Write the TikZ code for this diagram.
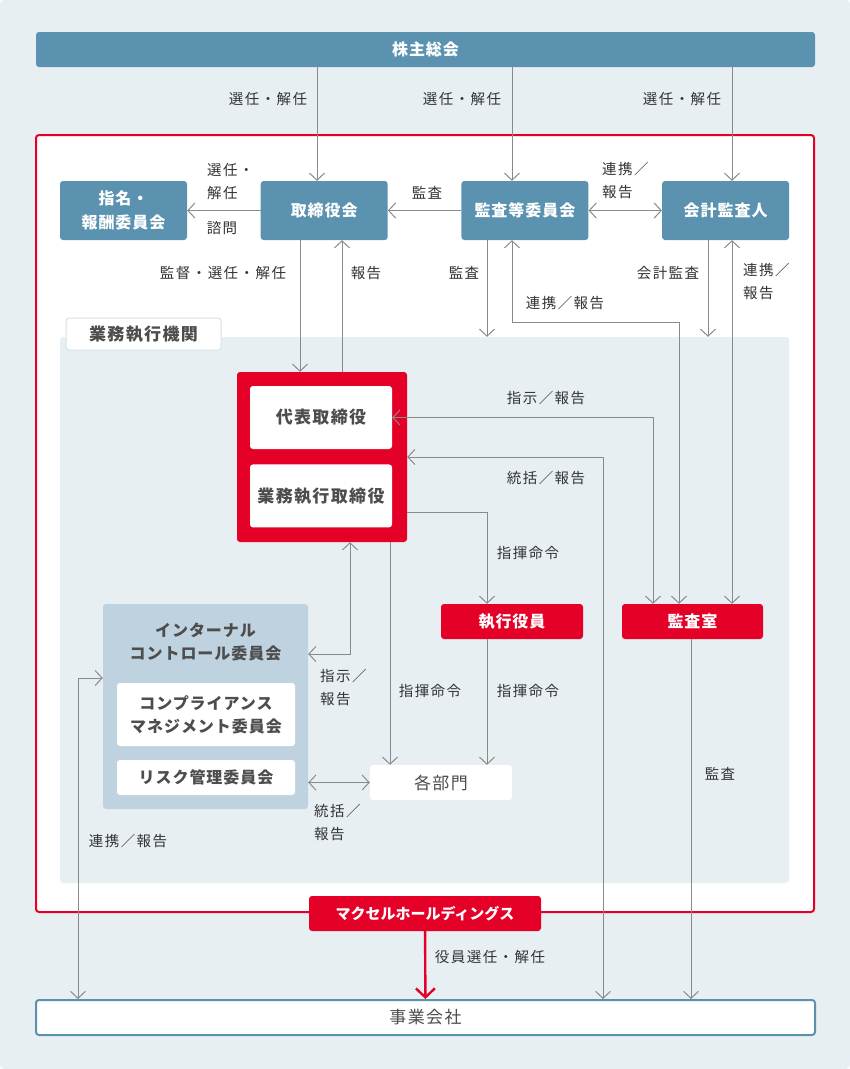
\documentclass[tikz,border=0pt]{standalone}
\usepackage{fontspec}
\setmainfont{Noto Sans CJK JP}
\newfontfamily\lblfont[LetterSpace=10]{Noto Sans CJK JP}
\newfontfamily\boxfont[LetterSpace=6]{Noto Sans CJK JP}
\newfontfamily\innerfont[LetterSpace=8]{Noto Sans CJK JP}
\usetikzlibrary{arrows.meta, positioning, calc}
\definecolor{pagebg}{HTML}{E8EFF3}
\definecolor{hdblue}{HTML}{5A92B0}
\definecolor{mxred}{HTML}{E40027}
\definecolor{icbg}{HTML}{BED3DF}
\definecolor{linegray}{HTML}{8A8A8A}
\definecolor{labeltext}{HTML}{333333}
\definecolor{boxtext}{HTML}{4D4D4D}
\definecolor{tabline}{HTML}{D5E1E9}
\tikzstyle{line} = [draw=linegray, line width=1pt, ->]
\tikzstyle{dline} = [line, <->]
\tikzstyle{redline} = [draw=mxred, line width=2.4pt, -{Straight Barb[length=9pt,width=19pt]}]
\tikzstyle{block} = [rectangle, fill=hdblue, rounded corners=3pt, text=white, align=center, inner sep=0pt, minimum width=127pt, minimum height=59pt, font=\boxfont\bfseries\fontsize{16}{24}\selectfont]
\tikzstyle{redblock} = [block, fill=mxred, minimum width=142pt, minimum height=35pt]
\tikzstyle{whitebox} = [block, fill=white, text=boxtext, minimum width=142pt, minimum height=63pt, font=\innerfont\bfseries\fontsize{17}{24}\selectfont]
\tikzstyle{lbl} = [inner sep=0pt, align=left, text=labeltext, font=\lblfont\fontsize{14.5}{23}\selectfont]

\begin{document}
\begin{tikzpicture}[x=1pt, y=-1pt, node distance=73.3pt, >={Straight Barb[length=7pt,width=15pt]}]
\fill[pagebg, rounded corners=4pt] (0,0) rectangle (850,1069);
\useasboundingbox (0,0) rectangle (850,1069);
\node [block, minimum width=779pt, minimum height=35pt] (shareholders) at (425.5,49.5) {株主総会};
\draw [mxred, line width=2pt, fill=white, rounded corners=3pt] (36,135) rectangle (814,912);
\node [block] (nomination) at (123.5,210.5) {指名・\\報酬委員会};
\node [block, right=of nomination] (board) {取締役会};
\node [block, right=of board] (audit) {監査等委員会};
\node [block, right=of audit] (accountant) {会計監査人};
\node [block, fill=pagebg, minimum width=729pt, minimum height=546pt] (execarea) at (424.5,610) {};
\node [whitebox, draw=tabline, line width=1pt, minimum width=155pt, minimum height=32pt] (tab) at (143.5,334) {業務執行機関};
\node [redblock, minimum width=170pt, minimum height=170pt] (group) at (322,457) {};
\node [whitebox] (president) at (321,417.5) {代表取締役};
\node [whitebox, below=15pt of president] (execdir) {業務執行取締役};
\node [redblock] (officers) at (512,621.5) {執行役員};
\node [redblock, minimum width=141pt] (auditoffice) at (692.5,621.5) {監査室};
\node [whitebox, minimum height=35pt, font=\innerfont\fontsize{17}{24}\selectfont] (depts) at (441,782.5) {各部門};
\node [block, fill=icbg, minimum width=205pt, minimum height=205pt] (internal) at (205.5,706.5) {};
\node [inner sep=0pt, align=center, text=boxtext, font=\boxfont\bfseries\fontsize{16}{23}\selectfont] (ictitle) at (205.5,642) {インターナル\\コントロール委員会};
\node [whitebox, minimum width=178pt, font=\boxfont\bfseries\fontsize{16}{23}\selectfont] (compliance) at (206,714.5) {コンプライアンス\\マネジメント委員会};
\node [whitebox, minimum width=178pt, minimum height=35pt, font=\boxfont\bfseries\fontsize{16}{23}\selectfont] (risk) at (206,777.5) {リスク管理委員会};
\node [redblock, minimum width=232pt, font=\bfseries\fontsize{15}{20}\selectfont] (maxell) at (425,913.5) {マクセルホールディングス};
\node [whitebox, draw=hdblue, line width=2pt, minimum width=779pt, minimum height=35pt, font=\innerfont\fontsize{17}{24}\selectfont] (business) at (425.5,1017.5) {事業会社};

\path [line] (shareholders.south -| 317,0) -- (board.north -| 317,0);
\path [line] (shareholders.south -| 512,0) -- (audit.north -| 512,0);
\path [line] (shareholders.south -| 732,0) -- (accountant.north -| 732,0);
\path [line] (board) -- (nomination);
\path [line] (audit) -- (board);
\path [dline] (audit) -- (accountant);
\path [line] (board.south -| 300,0) -- (group.north -| 300,0);
\path [line] (group.north -| 342,0) -- (board.south -| 342,0);
\path [line] (audit.south -| 487,0) -- (execarea.north -| 487,0);
\path [dline] (audit.south -| 512,0) -- (512,322) -| (auditoffice.north -| 679,0);
\path [line] (accountant.south -| 708,0) -- (execarea.north -| 708,0);
\path [dline] (accountant.south -| 732,0) -- (auditoffice.north -| 732,0);
\path [dline] (auditoffice.north -| 653,0) |- (president.east);
\path [dline] (group.east) -| (business.north -| 603,0);
\path [line] (group.east |- 0,512) -| (officers.north -| 487,0);
\path [line] (officers.south -| 487,0) -- (depts.north -| 487,0);
\path [line] (group.south -| 390,0) -- (depts.north -| 390,0);
\path [dline] (internal.east |- 0,654) -| (group.south -| 350,0);
\path [dline] (internal.east |- depts) -- (depts.west);
\path [dline] (business.north -| 78,0) |- (internal.west |- 0,678);
\path [line] (auditoffice.south -| 691,0) -- (business.north -| 691,0);
\path [redline] (maxell) -- (business);

\node [lbl] (lelect1) at (268,99) {選任・解任};
\node [lbl] (lelect2) at (462,99) {選任・解任};
\node [lbl] (lelect3) at (682,99) {選任・解任};
\node [lbl, anchor=west] (lnom) at (207,181) {選任・\\解任};
\node [lbl] (lconsult) at (222,228) {諮問};
\node [lbl] (laudit1) at (427,193) {監査};
\node [lbl, anchor=west] (lcoop1) at (602,181) {連携／\\報告};
\node [lbl] (lsuper) at (223,273) {監督・選任・解任};
\node [lbl] (lreport) at (366,273) {報告};
\node [lbl] (laudit2) at (464,273) {監査};
\node [lbl] (lcoop2) at (565,303) {連携／報告};
\node [lbl] (lacc) at (668,273) {会計監査};
\node [lbl, anchor=west] (lcoop3) at (743,282) {連携／\\報告};
\node [lbl] (linstr1) at (546,398) {指示／報告};
\node [lbl] (lgov1) at (546,478) {統括／報告};
\node [lbl] (lcmd1) at (528,553) {指揮命令};
\node [lbl] (lcmd2) at (528,691) {指揮命令};
\node [lbl] (lcmd3) at (430,691) {指揮命令};
\node [lbl, anchor=west] (linstr2) at (320,688) {指示／\\報告};
\node [lbl, anchor=west] (lgov2) at (314,822) {統括／\\報告};
\node [lbl] (lcoop4) at (128,841) {連携／報告};
\node [lbl] (laudit3) at (720,774) {監査};
\node [lbl] (lappoint) at (490,957) {役員選任・解任};
\end{tikzpicture}
\end{document}
